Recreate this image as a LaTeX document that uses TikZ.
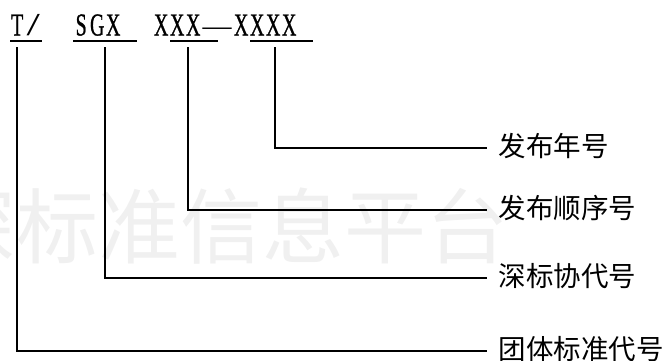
\documentclass[tikz,border=0pt]{standalone}
\usepackage{fontspec}
\usepackage{graphicx}
\newfontfamily\cjk{Noto Sans CJK SC}
\newfontfamily\codefont[FakeBold=1]{Liberation Serif}
\newfontfamily\dashfont{Liberation Serif}
\newcommand\mc[1]{\makebox[16pt]{\scalebox{0.62}[1]{#1}}}
\newcommand\slashc{\makebox[16pt]{\dashfont\scalebox{1.5}[1]{/}}}
\begin{document}
\begin{tikzpicture}[x=1pt,y=-1pt,
  code/.style={inner sep=0pt, anchor=base west, font=\codefont\fontsize{32}{32}\selectfont},
  lab/.style={inner xsep=11.5pt, inner ysep=0pt, anchor=west, text height=23pt, text depth=7pt,
    font=\cjk\fontsize{27.5}{27.5}\selectfont},
  conn/.style={line width=1.8pt},
  uline/.style={line width=1.2pt},
  wm/.style={inner sep=0pt, anchor=west, text=black!6, font=\cjk\fontsize{82}{82}\selectfont}]
\useasboundingbox (0,0) rectangle (665,360);
% watermark
\begin{scope}
\clip (0,0) rectangle (665,360);
\node[wm] (wmark) at (-66,226) {深标准信息平台};
\end{scope}
% code text
\node[code] (t) at (9,35.5) {\mc{T}\slashc};
\node[code] (sgx) at (73,35.5) {\mc{S}\mc{G}\mc{X}};
\node[code] (num) at (153,35.5) {\mc{X}\mc{X}\mc{X}\makebox[32pt]{\dashfont\fontsize{29}{29}\selectfont —}\mc{X}\mc{X}\mc{X}\mc{X}};
% underlines
\draw[uline] (10,41) -- (42,41);
\draw[uline] (73,41) -- (137,41);
\draw[uline] (170,41) -- (218,41);
\draw[uline] (250,41) -- (313,41);
% labels
\node[lab] (l1) at (487,148) {发布年号};
\node[lab] (l2) at (487,210) {发布顺序号};
\node[lab] (l3) at (487,278) {深标协代号};
\node[lab] (l4) at (487,351) {团体标准代号};
% connector tops
\coordinate (cT) at (17,47);
\coordinate (cS) at (105,47);
\coordinate (cN) at (188,47);
\coordinate (cY) at (275,47);
\draw[conn] (cY) |- (l1.west);
\draw[conn] (cN) |- (l2.west);
\draw[conn] (cS) |- (l3.west);
\draw[conn] (cT) |- (l4.west);
\end{tikzpicture}
\end{document}
